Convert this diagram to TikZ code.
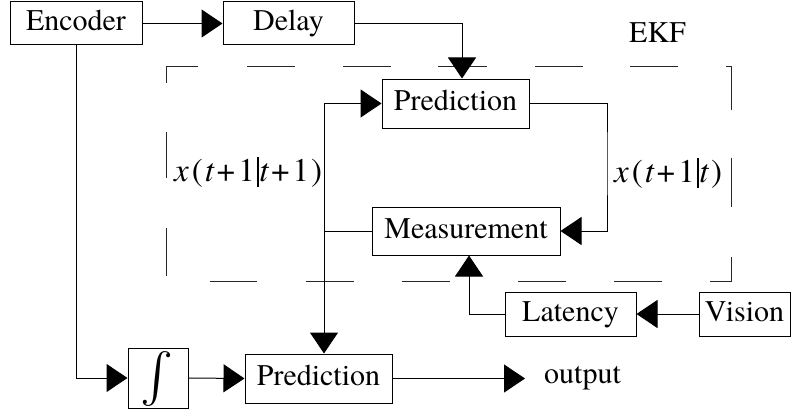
\documentclass[tikz,border=0pt]{standalone}
\usepackage{fontspec}
\setmainfont{texgyretermes}[Extension=.otf, UprightFont=*-regular, ItalicFont=*-italic, BoldFont=*-bold, BoldItalicFont=*-bolditalic]
\usetikzlibrary{arrows.meta}
\newcommand{\condbar}{\vrule width 2.5pt height 24pt depth 6pt}
\begin{document}
\begin{tikzpicture}[x=1pt,y=-1pt,
  blk/.style={draw, line width=1pt, inner sep=0pt, font=\fontsize{30}{36}\selectfont, text height=21pt, text depth=6.6pt},
  plain/.style={draw, line width=1pt, inner sep=0pt},
  txt/.style={inner sep=0pt, font=\fontsize{30}{36}\selectfont},
  lbl/.style={inner sep=0pt, font=\fontsize{33}{40}\selectfont},
  arr/.style={line width=1pt, -{Triangle[length=21pt,width=28pt]}},
  ln/.style={line width=1pt},
  dsh/.style={line width=1pt, draw=black!85}]
\useasboundingbox (0,0) rectangle (792,412);

% dashed EKF frame
\draw[dsh] (166,83) -- (166,67) -- (198,67);
\draw[dsh] (247,67) -- (295,67);
\draw[dsh] (343,67) -- (391,67);
\draw[dsh] (438,67) -- (487,67);
\draw[dsh] (535,67) -- (583,67);
\draw[dsh] (630,67) -- (678,67);
\draw[dsh] (726,67) -- (731,67) -- (731,110);
\draw[dsh] (731,158) -- (731,207);
\draw[dsh] (731,257) -- (731,281) -- (710,281);
\draw[dsh] (614,281) -- (662,281);
\draw[dsh] (518,281) -- (566,281);
\draw[dsh] (402,281) -- (450,281);
\draw[dsh] (306,281) -- (354,281);
\draw[dsh] (210,281) -- (257,281);
\draw[dsh] (166,228) -- (166,276);
\draw[dsh] (166,132) -- (166,178);

% blocks
\node[blk, minimum width=132pt, minimum height=43pt] (enc) at (76,23.5) {Encoder};
\node[blk, minimum width=131pt, minimum height=43pt] (delay) at (288.5,23.5) {Delay};
\node[blk, minimum width=147pt, minimum height=49pt] (pred1) at (455.5,103.5) {Prediction};
\node[blk, minimum width=188pt, minimum height=48pt] (meas) at (466,231) {Measurement};
\node[blk, minimum width=131pt, minimum height=44pt] (lat) at (570.5,314) {Latency};
\node[blk, minimum width=91pt, minimum height=44pt] (vis) at (744.5,314) {Vision};
\node[plain, minimum width=60pt, minimum height=60pt] (integ) at (158,378) {};
\node[inner sep=0pt] (intsign) at (157,379.5) {\resizebox*{!}{55pt}{$\int$}};
\node[blk, minimum width=147pt, minimum height=49pt] (pred2) at (318.5,378.5) {Prediction};

% texts
\node[txt, anchor=base] (ekf) at (657.5,43) {EKF};
\node[txt, anchor=base west] (out) at (544,383) {output};
\node[lbl, anchor=base west] (lab1) at (174,181) {\textit{x}\kern3pt(\kern2pt\textit{t}\kern2pt+\kern3pt1\kern2pt\condbar\textit{t}\kern2pt+\kern3pt1\kern2pt)};
\node[lbl, anchor=base west] (lab2) at (614,182) {\textit{x}\kern3pt(\kern2pt\textit{t}\kern2pt+\kern3pt1\kern2pt\condbar\textit{t}\kern2pt)};

% connectors
\coordinate (rt) at (607,160);
\coordinate (jt) at (324,103.5);
\coordinate (lc) at (469,314);
\draw[arr] (enc.east) -- (delay.west);
\draw[arr] (delay.east) -| ([xshift=6.5pt]pred1.north);
\draw[arr] (pred1.east) -| (rt) |- (meas.east);
\draw[arr] (jt) -- (pred1.west);
\draw[arr] (jt) -- (jt |- pred2.north);
\draw[ln] (meas.west) -- (meas.west -| jt);
\draw[arr] (vis.west) -- (lat.east);
\draw[arr] (lat.west) -- (lc) -- (lc |- meas.south);
\draw[arr] (enc.south) |- (integ.west);
\draw[arr] (integ.east) -- (pred2.west);
\draw[arr, shorten >=19pt] (pred2.east) -- (pred2.east -| out.west);
\end{tikzpicture}
\end{document}
